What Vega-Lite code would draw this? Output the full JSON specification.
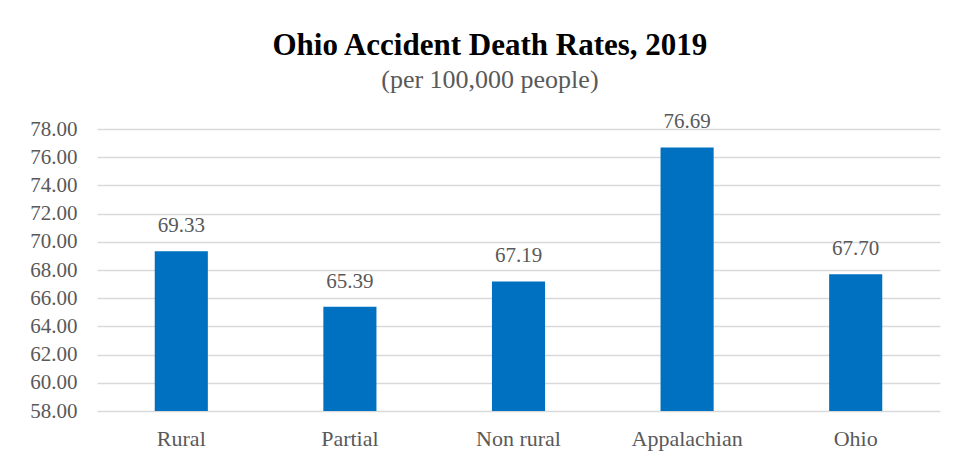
{
  "$schema": "https://vega.github.io/schema/vega-lite/v6.json",
  "width": 843,
  "height": 282,
  "autosize": {"type": "pad"},
  "padding": {"left": 29, "top": 30, "right": 20, "bottom": 10},
  "background": "white",
  "title": {
    "text": "Ohio Accident Death Rates, 2019",
    "subtitle": "(per 100,000 people)",
    "font": "Liberation Serif",
    "fontSize": 31,
    "fontWeight": "bold",
    "color": "#000000",
    "subtitleFont": "Liberation Serif",
    "subtitleFontSize": 26,
    "subtitleColor": "#595959",
    "subtitlePadding": 5,
    "anchor": "middle",
    "frame": "bounds",
    "dx": 5,
    "offset": 17
  },
  "data": {
    "values": [
      {"region": "Rural", "rate": 69.33},
      {"region": "Partial", "rate": 65.39},
      {"region": "Non rural", "rate": 67.19},
      {"region": "Appalachian", "rate": 76.69},
      {"region": "Ohio", "rate": 67.70}
    ]
  },
  "encoding": {
    "x": {
      "field": "region",
      "type": "nominal",
      "sort": null,
      "scale": {"paddingInner": 0.685, "paddingOuter": 0.3425},
      "axis": {
        "title": null,
        "labelAngle": 0,
        "ticks": false,
        "domain": false,
        "labelFont": "Liberation Serif",
        "labelFontSize": 22,
        "labelColor": "#595959",
        "labelPadding": 17
      }
    },
    "y": {
      "field": "rate",
      "type": "quantitative",
      "scale": {"domain": [58, 78], "zero": false, "nice": false},
      "axis": {
        "title": null,
        "values": [58, 60, 62, 64, 66, 68, 70, 72, 74, 76, 78],
        "format": ".2f",
        "ticks": false,
        "domain": false,
        "gridColor": "#D9D9D9",
        "gridWidth": 1.5,
        "labelFont": "Liberation Serif",
        "labelFontSize": 21,
        "labelColor": "#595959",
        "labelPadding": 20
      }
    }
  },
  "layer": [
    {"mark": {"type": "bar", "color": "#0070C0"}, "encoding": {"y2": {"datum": 58}}},
    {
      "mark": {
        "type": "text",
        "baseline": "alphabetic",
        "dy": -19,
        "font": "Liberation Serif",
        "fontSize": 21,
        "color": "#595959"
      },
      "encoding": {"text": {"field": "rate", "type": "quantitative", "format": ".2f"}}
    }
  ],
  "config": {"view": {"stroke": null}}
}
